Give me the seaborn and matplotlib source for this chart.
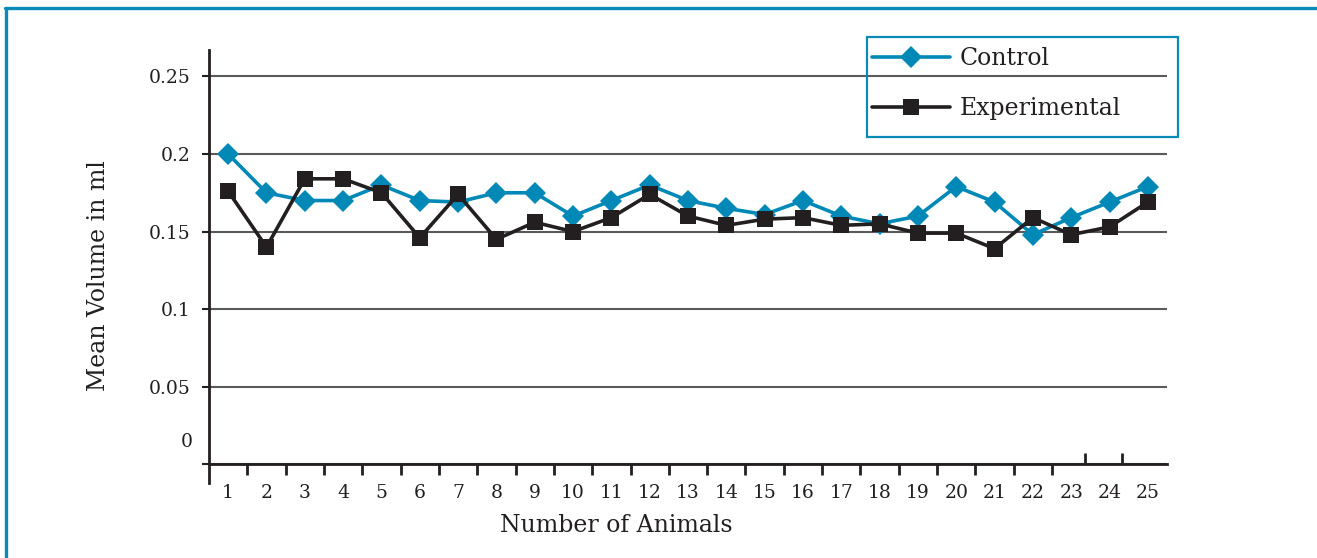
import matplotlib
matplotlib.use("Agg")
import matplotlib.pyplot as plt
from matplotlib.lines import Line2D
from matplotlib.patches import Rectangle
import seaborn as sns
import pandas as pd

# ---- data ----
animals = list(range(1, 26))
control = [0.200, 0.175, 0.170, 0.170, 0.180, 0.170, 0.169, 0.175, 0.175, 0.160,
           0.170, 0.180, 0.170, 0.165, 0.161, 0.170, 0.160, 0.155, 0.160, 0.179,
           0.169, 0.148, 0.159, 0.169, 0.179]
experimental = [0.176, 0.140, 0.184, 0.184, 0.175, 0.146, 0.174, 0.145, 0.156, 0.150,
                0.159, 0.174, 0.160, 0.154, 0.158, 0.159, 0.154, 0.155, 0.149, 0.149,
                0.139, 0.159, 0.148, 0.153, 0.169]
series_names = ["Control", "Experimental"]
ytick_values = [0, 0.05, 0.1, 0.15, 0.2, 0.25]
ytick_labels = ["", "0.05", "0.1", "0.15", "0.2", "0.25"]
xlabel = "Number of Animals"
ylabel = "Mean Volume in ml"

BLUE = "#0088b6"
BLACK = "#231f20"
GRID = "#5a5a5a"
FRAME = "#0a8ab8"

df_c = pd.DataFrame({"animal": animals, "volume": control})
df_e = pd.DataFrame({"animal": animals, "volume": experimental})

sns.set_theme(style="white")
plt.rcParams["font.family"] = ["DejaVu Serif"]

fig = plt.figure(figsize=(13.17, 5.58), dpi=100)
ax = fig.add_axes([209/1317, 1-483/558, (1167-209)/1317, (483-50)/558])

ax.set_axisbelow(True)
ax.grid(axis="y", color=GRID, linewidth=1.5)
ax.grid(axis="x", visible=False)

sns.lineplot(data=df_c, x="animal", y="volume", ax=ax, color=BLUE,
             marker="D", markersize=11.5, markeredgewidth=0, linewidth=2.6)
sns.lineplot(data=df_e, x="animal", y="volume", ax=ax, color=BLACK,
             marker="s", markersize=11.5, markeredgewidth=0, linewidth=2.6)

ax.set_xlim(0.5, 25.5)
ax.set_ylim(-0.012, 0.267)

for s in ["top", "right"]:
    ax.spines[s].set_visible(False)
ax.spines["bottom"].set_position(("data", 0))
for s in ["left", "bottom"]:
    ax.spines[s].set_color(BLACK)
    ax.spines[s].set_linewidth(2.0)

TICK_FS = 13.5
ax.set_yticks(ytick_values)
ax.set_yticklabels(ytick_labels)
ax.text(-16/958, 0.0142, "0", transform=ax.get_yaxis_transform(),
        ha="right", va="center", fontsize=TICK_FS, color=BLACK)
ax.tick_params(axis="y", which="major", left=True, length=5, width=1.5,
               color=BLACK, labelsize=TICK_FS, labelcolor=BLACK, pad=8)

ax.set_xticks(animals)
ax.set_xticklabels([str(a) for a in animals])
ax.set_xticks([a + 0.5 for a in animals[:22]], minor=True)
ax.tick_params(axis="x", which="major", bottom=True, length=0, pad=14,
               labelsize=TICK_FS, labelcolor=BLACK)
ax.tick_params(axis="x", which="minor", bottom=True, direction="out",
               length=8, width=2, color=BLACK)

# stray inward ticks near 23/24/25
sec = ax.secondary_xaxis(0.012/0.279)
sec.set_xticks([23.37, 24.33])
sec.set_xticklabels(["", ""])
sec.tick_params(axis="x", direction="in", length=8, width=2, color=BLACK)
sec.spines["bottom"].set_visible(False)

ax.set_xlabel(xlabel, fontsize=17, color=BLACK)
ax.set_ylabel(ylabel, fontsize=17, color=BLACK)
ax.xaxis.set_label_coords((616-209)/958, (483-514)/433)
ax.yaxis.set_label_coords((110-209)/958, (483-276)/433)

handles = ax.lines[:2]
leg = ax.legend(handles, series_names, loc="upper left",
                bbox_to_anchor=(872/1317, 1-47/558),
                bbox_transform=fig.transFigure,
                fontsize=17, handlelength=3.3, handletextpad=0.4,
                borderpad=0, labelspacing=1.15, borderaxespad=0,
                frameon=False, numpoints=1)
for t in leg.get_texts():
    t.set_color(BLACK)

# legend box outline
fig.add_artist(Rectangle((867/1317, 1-137/558), 311/1317, 100/558,
                         transform=fig.transFigure, fill=False,
                         edgecolor=FRAME, linewidth=1.6))

# outer frame (top and left)
fig.add_artist(Line2D([5/1317, 1], [1-8/558, 1-8/558], transform=fig.transFigure,
                      color=FRAME, linewidth=2.4))
fig.add_artist(Line2D([6/1317, 6/1317], [0, 1-8/558], transform=fig.transFigure,
                      color=FRAME, linewidth=2.4))

fig.savefig("out.png", dpi=100)
